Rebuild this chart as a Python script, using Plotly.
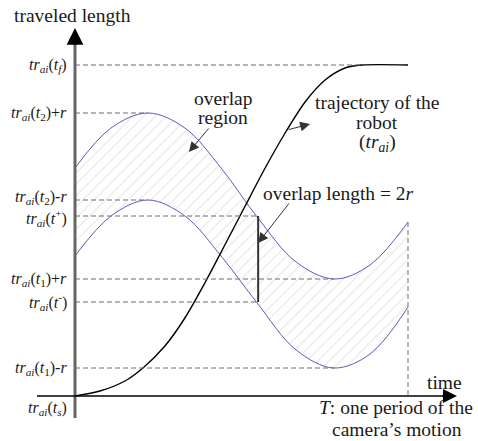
import plotly.graph_objects as go

# Time is measured in units of the camera period T (0 .. 1),
# traveled length in arbitrary units (0 = tr_ai(t_s)).
t_cam = [0.0, 0.108, 0.219, 0.330, 0.441, 0.547, 0.664, 0.778, 0.886, 1.0]
cam_upper = [228, 268, 283, 268, 227, 179, 134, 117, 131, 174]   # camera window + r
cam_lower = [140, 180, 196, 180, 139, 93, 46, 28, 42, 89]        # camera window - r

t_robot = [0.0, 0.075, 0.150, 0.204, 0.270, 0.330, 0.390, 0.450, 0.511,
           0.571, 0.631, 0.691, 0.751, 0.811, 0.862, 1.0]
robot_len = [0, 5, 15, 28, 50, 78, 113, 151, 190, 228, 263, 294, 316, 328, 331, 331]

# key instants
t_2 = 0.219     # camera window at its top
t_pm = 0.55     # t+ / t- (overlap length measured here)
t_1 = 0.778     # camera window at its bottom
t_f = 0.862     # robot reaches its final position

level_labels = [
    "<i>tr</i><sub><i>ai</i></sub>(<i>t</i><sub><i>f</i></sub>)",
    "<i>tr</i><sub><i>ai</i></sub>(<i>t</i><sub>2</sub>)+<i>r</i>",
    "<i>tr</i><sub><i>ai</i></sub>(<i>t</i><sub>2</sub>)-<i>r</i>",
    "<i>tr</i><sub><i>ai</i></sub>(<i>t</i><sup>+</sup>)",
    "<i>tr</i><sub><i>ai</i></sub>(<i>t</i><sub>1</sub>)+<i>r</i>",
    "<i>tr</i><sub><i>ai</i></sub>(<i>t</i><sup>-</sup>)",
    "<i>tr</i><sub><i>ai</i></sub>(<i>t</i><sub>1</sub>)-<i>r</i>",
    "<i>tr</i><sub><i>ai</i></sub>(<i>t</i><sub><i>s</i></sub>)",
]
level_values = [331, 283, 196, 180, 117, 94, 28, 0]
level_until = [t_f, t_2, t_2, t_pm, t_1, t_pm, t_1, None]
label_shift = [0, 0, 3, -2, 0, 0, 0, -12]   # small vertical nudges for crowded labels

FONT = "Liberation Serif"
TXT = "#1a1a1a"
BLUE = "#5a5ac4"
GUIDE = "#6e6e6e"

fig = go.Figure()

# hatched overlap band between the two camera curves
fig.add_trace(go.Scatter(
    x=t_cam, y=cam_lower, mode="lines", line=dict(color=BLUE, width=1, shape="spline"),
    hoverinfo="skip"))
fig.add_trace(go.Scatter(
    x=t_cam, y=cam_upper, mode="lines", line=dict(color=BLUE, width=1, shape="spline"),
    fill="tonexty", fillcolor="rgba(255,255,255,0)",
    fillpattern=dict(shape="/", fgcolor="#c8c8c8", bgcolor="rgba(255,255,255,0)",
                     size=8, solidity=0.12),
    hoverinfo="skip"))

# robot trajectory
fig.add_trace(go.Scatter(
    x=t_robot, y=robot_len, mode="lines",
    line=dict(color="black", width=1.4, shape="spline", smoothing=0.8),
    hoverinfo="skip"))

shapes = []
annotations = []

# dashed guide lines and their labels
for lab, val, until, dy in zip(level_labels, level_values, level_until, label_shift):
    if until is not None:
        shapes.append(dict(type="line", xref="x", yref="y", x0=0, x1=until, y0=val, y1=val,
                           line=dict(color=GUIDE, width=1, dash="5px,3px")))
    annotations.append(dict(x=-0.018, y=val, xref="x", yref="y", text=lab, showarrow=False,
                            xanchor="right", yanchor="middle", yshift=dy,
                            font=dict(family=FONT, size=16, color=TXT)))

# vertical dashed line at t = T
shapes.append(dict(type="line", xref="x", yref="y", x0=1.0, x1=1.0, y0=cam_upper[-1], y1=0,
                   line=dict(color=GUIDE, width=1, dash="5px,3px")))

# overlap length = 2r
shapes.append(dict(type="line", xref="x", yref="y", x0=t_pm, x1=t_pm,
                   y0=level_values[5], y1=level_values[3],
                   line=dict(color="#333333", width=2)))

# axes
shapes.append(dict(type="line", xref="x", yref="y", x0=0, x1=0, y0=-22, y1=356,
                   line=dict(color="#666666", width=3)))
shapes.append(dict(type="line", xref="x", yref="y", x0=-0.114, x1=1.12, y0=0, y1=0,
                   line=dict(color="black", width=1.6)))
annotations.append(dict(x=0, y=368, ax=0, ay=350, xref="x", yref="y", axref="x", ayref="y",
                        text="", showarrow=True, arrowhead=2, arrowsize=1.4, arrowwidth=2.4,
                        arrowcolor="black"))
annotations.append(dict(x=1.147, y=0, ax=1.10, ay=0, xref="x", yref="y", axref="x", ayref="y",
                        text="", showarrow=True, arrowhead=2, arrowsize=1.4, arrowwidth=2,
                        arrowcolor="black"))

# pointer arrows
for (hx, hy, tx, ty) in [(0.342, 244, 0.405, 269), (0.706, 272, 0.637, 266),
                         (0.550, 153, 0.646, 194)]:
    annotations.append(dict(x=hx, y=hy, ax=tx, ay=ty, xref="x", yref="y", axref="x", ayref="y",
                            text="", showarrow=True, arrowhead=2, arrowsize=2, arrowwidth=1,
                            arrowcolor="#333333"))

def note(x, y, text, anchor="center"):
    annotations.append(dict(x=x, y=y, xref="x", yref="y", text=text, showarrow=False,
                            xanchor=anchor, yanchor="middle", align="center",
                            font=dict(family=FONT, size=19.5, color=TXT)))

note(-0.189, 381, "traveled length", anchor="left")
note(0.444, 298, "overlap")
note(0.444, 279, "region")
note(0.907, 294, "trajectory of the")
note(0.907, 274, "robot")
note(0.907, 253, "(<i>tr</i><sub><i>ai</i></sub>)")
note(0.790, 203, "overlap length = 2<i>r</i>")
note(1.111, 14, "time")
note(0.964, -11, "<i>T</i>: one period of the")
note(0.967, -33, "camera’s motion")

fig.update_layout(
    width=478, height=441, margin=dict(l=0, r=0, t=0, b=0),
    paper_bgcolor="white", plot_bgcolor="white", showlegend=False,
    xaxis=dict(range=[-0.22523, 1.21021], visible=False, fixedrange=True),
    yaxis=dict(range=[-45, 396], visible=False, fixedrange=True),
    shapes=shapes, annotations=annotations,
)

fig.write_html("out.html")
